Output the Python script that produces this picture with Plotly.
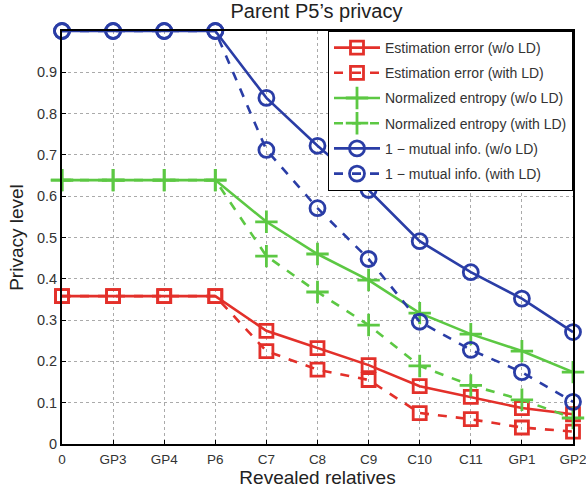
import plotly.graph_objects as go

categories = ["0", "GP3", "GP4", "P6", "C7", "C8", "C9", "C10", "C11", "GP1", "GP2"]
est_err_wo = [0.358, 0.358, 0.358, 0.358, 0.274, 0.232, 0.191, 0.140, 0.114, 0.087, 0.072]
est_err_with = [0.358, 0.358, 0.358, 0.358, 0.225, 0.180, 0.155, 0.075, 0.060, 0.040, 0.030]
norm_ent_wo = [0.639, 0.639, 0.639, 0.639, 0.538, 0.460, 0.397, 0.317, 0.266, 0.225, 0.174]
norm_ent_with = [0.639, 0.639, 0.639, 0.639, 0.455, 0.368, 0.288, 0.189, 0.142, 0.107, 0.063]
mi_wo = [1.0, 1.0, 1.0, 1.0, 0.838, 0.722, 0.615, 0.491, 0.416, 0.352, 0.271]
mi_with = [1.0, 1.0, 1.0, 1.0, 0.712, 0.571, 0.448, 0.296, 0.228, 0.174, 0.102]
y_ticks = [0, 0.1, 0.2, 0.3, 0.4, 0.5, 0.6, 0.7, 0.8, 0.9]

RED = "#e3302a"
GREEN = "#5cc843"
BLUE = "#2a3da6"

x = list(range(len(categories)))

series = [
    ("Estimation error (w/o LD)", est_err_wo, RED, "solid", "square-open", 13),
    ("Estimation error (with LD)", est_err_with, RED, "dash", "square-open", 13),
    ("Normalized entropy (w/o LD)", norm_ent_wo, GREEN, "solid", "cross-thin-open", 16),
    ("Normalized entropy (with LD)", norm_ent_with, GREEN, "dash", "cross-thin-open", 16),
    ("1 \u2212 mutual info. (w/o LD)", mi_wo, BLUE, "solid", "circle-open", 15),
    ("1 \u2212 mutual info. (with LD)", mi_with, BLUE, "dash", "circle-open", 15),
]

fig = go.Figure()
for i, (name, ys, col, dash, sym, sz) in enumerate(series):
    fig.add_trace(go.Scatter(
        x=x, y=ys, name=name, mode="lines+markers", legendgroup=f"g{i}",
        line=dict(color=col, width=2.6, dash=dash),
        marker=dict(symbol=sym, size=sz, color=col, line=dict(color=col, width=2.8)),
        cliponaxis=False,
    ))

fig.update_layout(
    width=586, height=488,
    margin=dict(l=62, r=13, t=31, b=44),
    paper_bgcolor="white", plot_bgcolor="white",
    font=dict(family="Liberation Sans, Arial, sans-serif", color="#333333", size=14),
    title=dict(text="Parent P5\u2019s privacy", x=0.54, xanchor="center", y=0.992, yanchor="top",
               font=dict(size=20, color="#222222")),
    legend=dict(
        x=1.0, y=1.0, xanchor="right", yanchor="top",
        bgcolor="white", bordercolor="black", borderwidth=1,
        font=dict(size=14, color="#333333"),
        tracegroupgap=4, itemwidth=46,
    ),
    showlegend=True,
)

fig.update_xaxes(
    range=[0, 10], tickmode="array", tickvals=x, ticktext=categories,
    showgrid=True, gridcolor="#aaaaaa", griddash="dot", gridwidth=1,
    showline=True, linecolor="black", linewidth=2, mirror=True,
    ticks="inside", ticklen=4, tickcolor="black",
    zeroline=False, tickfont=dict(size=13.5), ticklabelstandoff=2, automargin=False,
    ticklabeloverflow="allow",
    title=dict(text="Revealed relatives", font=dict(size=19, color="#222222"), standoff=1),
)
fig.update_yaxes(
    range=[0, 1], tickmode="array", tickvals=y_ticks, ticktext=[str(v) for v in y_ticks],
    showgrid=True, gridcolor="#aaaaaa", griddash="dot", gridwidth=1,
    showline=True, linecolor="black", linewidth=2, mirror=True,
    ticks="inside", ticklen=4, tickcolor="black",
    zeroline=False, tickfont=dict(size=14.5), automargin=False,
    title=dict(text="Privacy level", font=dict(size=19, color="#222222"), standoff=8),
)

fig.write_html("out.html")
